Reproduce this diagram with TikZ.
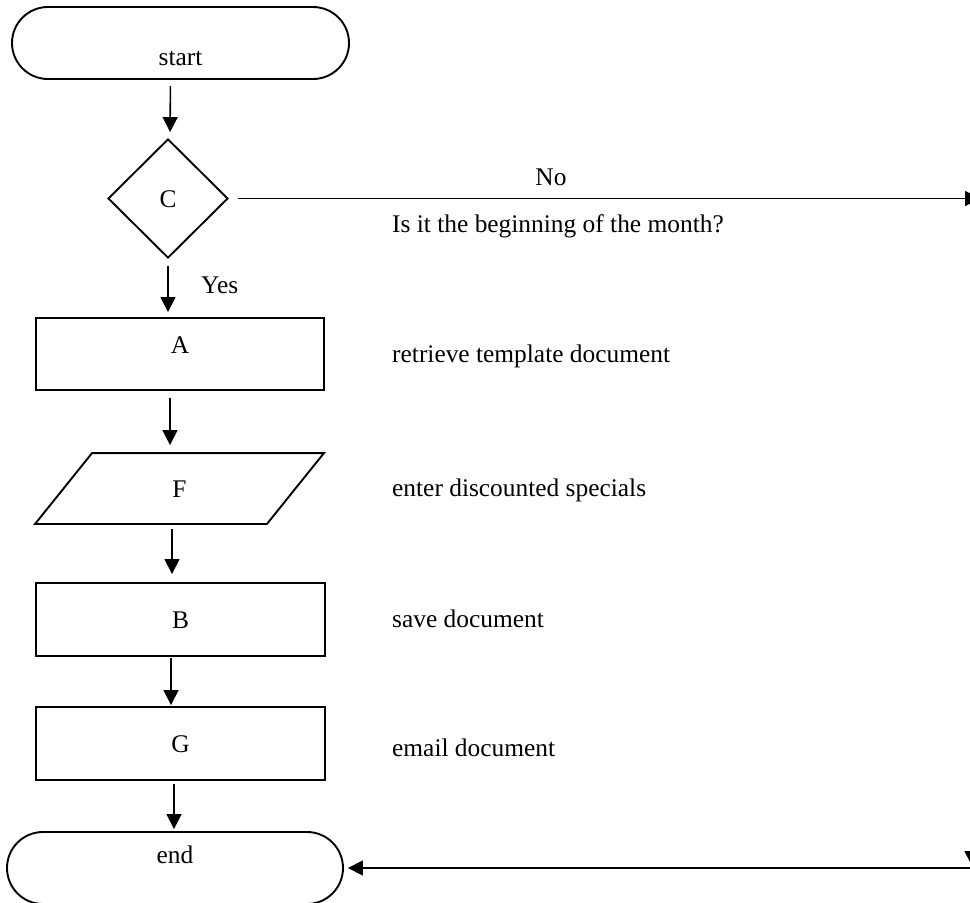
\documentclass[tikz,border=0pt]{standalone}
\usepackage{fontspec}
\setmainfont{Liberation Serif}
\usetikzlibrary{arrows.meta,shapes.misc,shapes.geometric}
\begin{document}
\begin{tikzpicture}[x=1pt,y=-1pt,
 every node/.style={font=\fontsize{25.4pt}{30pt}\selectfont},
 shp/.style={draw,line width=1.9pt,inner sep=0pt,text height=17pt,text depth=0pt},
 term/.style={shp,rounded rectangle,minimum width=337pt,minimum height=72pt},
 procbox/.style={shp,rectangle,minimum width=289pt,minimum height=72pt},
 dec/.style={shp,diamond,minimum width=120pt,minimum height=119pt},
 arr/.style={line width=1.6pt,-{Triangle[length=15pt,width=15pt]}},
 lbl/.style={anchor=base west,inner sep=0pt}]
\useasboundingbox (0,0) rectangle (970,903);
\clip (0,0) rectangle (970,903);

% shapes
\node[term,text height=44pt] (start) at (180.5,43) {start};
\node[dec] (C) at (168,198.5) {C};
\node[procbox,minimum width=288pt,text height=17pt,text depth=19pt] (A) at (180,354) {A};
\node[shp,draw=none,minimum width=287pt,minimum height=69pt] (F) at (179.5,488.5) {F};
\draw[line width=1.9pt,line join=miter] (F.south west) -- ([xshift=57pt]F.north west) -- (F.north east) -- ([xshift=-57pt]F.south east) -- cycle;
\node[procbox,minimum height=73pt] (B) at (180.5,619.5) {B};
\node[procbox,minimum height=73pt] (G) at (180.5,743.5) {G};
\node[term,minimum width=336pt,text height=18pt,text depth=28pt] (end) at (175,868) {end};

% free ends of the No branch (at the right edge)
\coordinate (cR) at (980,198.5);
\coordinate (cT) at (972,205);
\coordinate (cD) at (972,866);
\coordinate (cB) at (972,868);

% connectors
\draw[arr,shorten <=6pt,shorten >=6pt] ([xshift=-10pt]start.south) -- ([xshift=2pt]C.north);
\draw[arr,shorten <=7pt,shorten >=5pt] (C.south) -- ([xshift=-12pt]A.north);
\draw[arr,shorten <=7pt,shorten >=8pt] ([xshift=-10pt]A.south) -- ([xshift=-9.5pt]F.north);
\draw[arr,shorten <=5pt,shorten >=8pt] ([xshift=-7.5pt]F.south) -- ([xshift=-8.5pt]B.north);
\draw[arr,shorten <=1pt,shorten >=1pt] ([xshift=-9.5pt]B.south) -- ([xshift=-9.5pt]G.north);
\draw[arr,shorten <=3pt,shorten >=2pt] ([xshift=-6.5pt]G.south) -- ([xshift=-1pt]end.north);
\draw[arr,shorten <=9pt] (C.east) -- (cR);
\draw[arr] (cT) -- (cD);
\draw[arr,shorten >=4pt] (cB) -- (end.east);

% labels
\node[lbl,anchor=base] (no) at (551,185) {No};
\node[lbl] (q) at (392,232) {Is it the beginning of the month?};
\node[lbl] (yes) at (201,293) {Yes};
\node[lbl] (la) at (392,362) {retrieve template document};
\node[lbl] (lf) at (392,496) {enter discounted specials};
\node[lbl] (lb) at (392,627) {save document};
\node[lbl] (lg) at (392,756) {email document};
\end{tikzpicture}
\end{document}
